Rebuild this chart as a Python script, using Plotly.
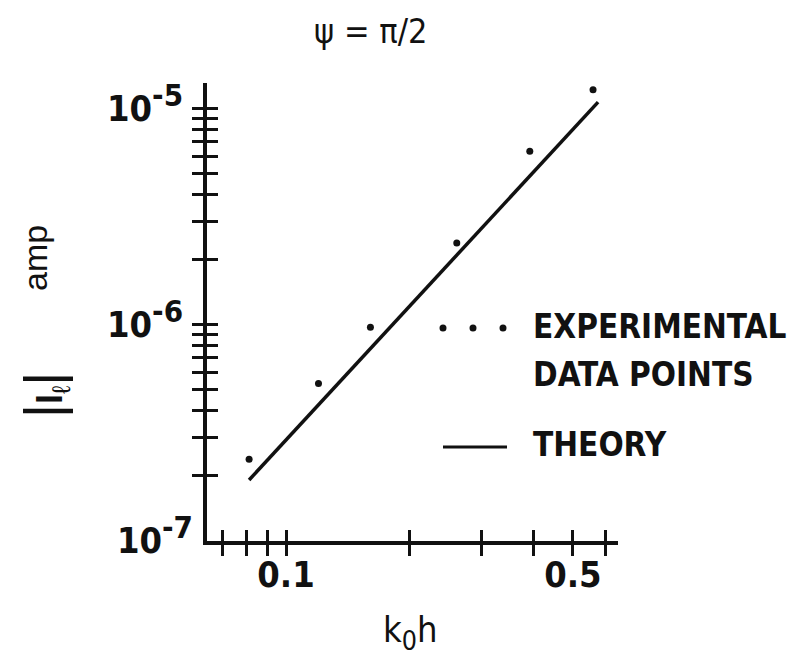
import plotly.graph_objects as go

# Induced current amplitude |I_l| versus k0*h for psi = pi/2
k0h_exp = [0.0813, 0.120, 0.1606, 0.2607, 0.3927, 0.560]
amp_exp = [2.37e-7, 5.32e-7, 9.7e-7, 2.38e-6, 6.34e-6, 1.22e-5]

k0h_theory = [0.0813, 0.576]
amp_theory = [1.90e-7, 1.07e-5]

# x axis: labelled decades plus unlabelled marks
x_label_vals = [0.1, 0.5]
x_label_text = ["0.1", "0.5"]
x_minor = [0.07, 0.08, 0.09, 0.2, 0.3, 0.4, 0.6]

# y axis: labelled decades plus unlabelled marks
y_label_upper = [1e-6, 1e-5]
y_text_upper = ["10<sup><span style='font-size:31px'>-6</span></sup>",
                "10<sup><span style='font-size:31px'>-5</span></sup>"]
y_label_lower = [1e-7]
y_text_lower = ["10<sup><span style='font-size:31px'>-7</span></sup>"]
y_minor = [2e-7, 3e-7, 4e-7, 5e-7, 6e-7, 7e-7, 8e-7, 9e-7,
           2e-6, 3e-6, 4e-6, 5e-6, 6e-6, 7e-6, 8e-6, 9e-6]

legend_exp = ["EXPERIMENTAL", "DATA POINTS"]
legend_theory = "THEORY"

FONT = "Liberation Sans Narrow, DejaVu Sans Condensed, Liberation Sans, sans-serif"
INK = "#111111"

X_RANGE = [-1.1925, -0.191]
Y_RANGE = [-7.004, -4.882]

fig = go.Figure()

fig.add_trace(go.Scatter(
    x=k0h_theory, y=amp_theory, mode="lines", xaxis="x", yaxis="y",
    line=dict(color=INK, width=3.5), showlegend=False, hoverinfo="skip"))

fig.add_trace(go.Scatter(
    x=k0h_exp, y=amp_exp, mode="markers", xaxis="x2", yaxis="y2",
    marker=dict(color=INK, size=7), showlegend=False))

tick_style = dict(tickcolor=INK, tickwidth=3, ticklen=11)
label_font = dict(size=36, family=FONT, color=INK, weight="bold")

fig.update_layout(
    width=795, height=665,
    margin=dict(l=207, r=177, t=83, b=124),
    paper_bgcolor="white", plot_bgcolor="white",
    font=dict(family=FONT, color=INK),
    # outer half of the tick marks, with labels
    xaxis=dict(
        type="log", range=X_RANGE, showgrid=False, zeroline=False,
        showline=True, linecolor=INK, linewidth=3.5,
        tickmode="array", tickvals=x_label_vals, ticktext=x_label_text,
        ticks="outside", tickfont=label_font, ticklabelstandoff=-12,
        minor=dict(tickmode="array", tickvals=x_minor, ticks="outside",
                   showgrid=False, **tick_style),
        **tick_style),
    yaxis=dict(
        type="log", range=Y_RANGE, showgrid=False, zeroline=False,
        showline=True, linecolor=INK, linewidth=3.5,
        tickmode="array", tickvals=y_label_upper, ticktext=y_text_upper,
        ticks="outside", tickfont=label_font, ticklabelstandoff=2,
        minor=dict(tickmode="array", tickvals=y_minor, ticks="outside",
                   showgrid=False, **tick_style),
        **tick_style),
    # inner half of the tick marks, so each mark crosses the axis line
    xaxis2=dict(
        type="log", range=X_RANGE, overlaying="x", anchor="y2",
        showgrid=False, zeroline=False, showline=False,
        tickmode="array", tickvals=x_label_vals, showticklabels=False,
        ticks="inside",
        minor=dict(tickmode="array", tickvals=x_minor, ticks="inside",
                   showgrid=False, **tick_style),
        **tick_style),
    yaxis2=dict(
        type="log", range=Y_RANGE, overlaying="y", anchor="x2", side="left",
        showgrid=False, zeroline=False, showline=False,
        tickmode="array", tickvals=y_label_lower, ticktext=y_text_lower,
        ticks="inside", tickfont=label_font, ticklabelstandoff=13,
        minor=dict(tickmode="array", tickvals=y_minor + y_label_upper,
                   ticks="inside", showgrid=False, **tick_style),
        **tick_style),
)

def px_x(px):
    return (px - 207) / 411

def px_y(py):
    return (541 - py) / 458

bar = "<span style='font-size:54px'>|</span>"
annotations = [
    dict(text="ψ = π/2", x=px_x(370), y=px_y(31), font=dict(size=34)),
    dict(text="k<span style='font-size:38px'><sub>0</sub></span>h",
         x=px_x(410), y=px_y(632), font=dict(size=36)),
    dict(text="amp", x=px_x(35), y=px_y(258), textangle=-90,
         font=dict(size=34, family="Liberation Sans, sans-serif")),
    dict(text=bar + "<b>I</b><sub>ℓ</sub>" + bar, x=px_x(44), y=px_y(395),
         textangle=-90,
         font=dict(size=36, family="Liberation Sans, sans-serif")),
    dict(text=legend_exp[0], x=px_x(531), y=px_y(326), xanchor="left",
         font=dict(size=33, weight="bold")),
    dict(text=legend_exp[1], x=px_x(531), y=px_y(375), xanchor="left",
         font=dict(size=33, weight="bold")),
    dict(text=legend_theory, x=px_x(531), y=px_y(444), xanchor="left",
         font=dict(size=33, weight="bold")),
]
for a in annotations:
    a.setdefault("xanchor", "center")
    a.update(xref="paper", yref="paper", yanchor="middle", showarrow=False)
    a["font"].setdefault("family", FONT)
    a["font"]["color"] = INK
fig.update_layout(annotations=annotations)

# legend key: three dots and a solid stroke
shapes = []
for cx in (443, 473, 503):
    shapes.append(dict(
        type="circle", xref="paper", yref="paper",
        xsizemode="pixel", ysizemode="pixel",
        xanchor=px_x(cx), yanchor=px_y(328),
        x0=-3.5, x1=3.5, y0=-3.5, y1=3.5,
        fillcolor=INK, line=dict(width=0)))
shapes.append(dict(
    type="line", xref="paper", yref="paper",
    x0=px_x(443), x1=px_x(507), y0=px_y(447), y1=px_y(447),
    line=dict(color=INK, width=3)))
fig.update_layout(shapes=shapes)

fig.write_html("out.html")
